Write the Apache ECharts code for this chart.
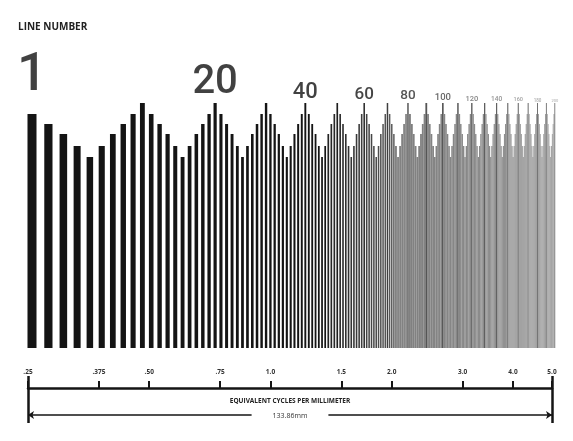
<!DOCTYPE html>
<html><head><meta charset="utf-8">
<script src="https://cdn.jsdelivr.net/npm/echarts@6/dist/echarts.min.js"></script>
<style>html,body{margin:0;padding:0;background:#fff}#c{width:573px;height:441px}</style>
</head><body><div id="c"></div>
<script>
// ---- data ----
// bar heights (arbitrary units) for line numbers 1..200
const barHeights = [
  234,224,214,202,191,202,214,224,234,245,
  234,224,214,202,191,202,214,224,234,245,
  234,224,214,202,191,202,214,224,234,245,
  234,224,214,202,191,202,214,224,234,245,
  234,224,214,202,191,202,214,224,234,245,
  234,224,214,202,191,202,214,224,234,245,
  234,224,214,202,191,202,214,224,234,245,
  234,224,214,202,191,202,214,224,234,245,
  234,224,214,202,191,202,214,224,234,245,
  234,224,214,202,191,202,214,224,234,245,
  234,224,214,202,191,202,214,224,234,245,
  234,224,214,202,191,202,214,224,234,245,
  234,224,214,202,191,202,214,224,234,245,
  234,224,214,202,191,202,214,224,234,245,
  234,224,214,202,191,202,214,224,234,245,
  234,224,214,202,191,202,214,224,234,245,
  234,224,214,202,191,202,214,224,234,245,
  234,224,214,202,191,202,214,224,234,245,
  234,224,214,202,191,202,214,224,234,245,
  234,224,214,202,191,202,214,224,234,245
];
const labeledLines = [1, 20, 40, 60, 80, 100, 120, 140, 160, 180, 200];
const scaleTicks = [0.25, 0.375, 0.5, 0.75, 1, 1.5, 2, 3, 4, 5];
const scaleTickLabels = ['.25', '.375', '.50', '.75', '1.0', '1.5', '2.0', '3.0', '4.0', '5.0'];
const titleText = 'LINE NUMBER';
const scaleName = 'EQUIVALENT CYCLES PER MILLIMETER';
const spanText = '133.86mm';

// line number n <-> cycles per millimetre (chart's own relation: .25 at line 1, +.025 per line)
const lineNumbers = barHeights.map((_, i) => i + 1);
const cycles = lineNumbers.map(n => 0.25 + 0.025 * (n - 1));

// ---- styles ----
const labelSizes = [53, 40, 22, 17, 13.5, 9.5, 7.5, 6.5, 5.5, 4.5, 4];
const labelColors = ['#111', '#111', '#111', '#151515', '#2a2a2a', '#444', '#666', '#777', '#888', '#999', '#aaa'];
function hex(v) { v = Math.max(0, Math.min(255, Math.round(v))); const h = v.toString(16).padStart(2, '0'); return '#' + h + h + h; }
function barStyle(n) {
  const peak = n % 10 === 0;
  if (n <= 46) return { c: hex(0x14), frac: 0.55 };
  if (n <= 80) { const t = (n - 46) / 34; return { c: hex(peak ? 0x16 + t * 0x3a : 0x22 + t * 0x48), frac: 0.55 + t * 0.2 }; }
  const t = (n - 80) / 120;
  return { c: hex(peak ? 0x52 + t * 0x20 : 0x80 + t * 0x1c), frac: 1.05 };
}
const peakH = Math.max.apply(null, barHeights);
const last = scaleTicks[scaleTicks.length - 1];

const chart = echarts.init(document.getElementById('c'), null, { renderer: 'canvas' });
chart.setOption({
  animation: false,
  backgroundColor: '#fff',
  title: { text: titleText, left: 18, top: 22, padding: 0, textStyle: { fontSize: 10, fontWeight: 'bold', color: '#222', fontFamily: 'Open Sans' } },
  grid: [
    { left: 32, right: 18.2, top: 103, bottom: 93 },
    { left: 28, right: 21, top: 376, height: 47 }
  ],
  xAxis: [
    { type: 'log', gridIndex: 0, min: cycles[0], max: cycles[cycles.length - 1], show: false },
    {
      type: 'log', gridIndex: 1, min: scaleTicks[0], max: last, position: 'top', offset: -12,
      axisLine: { show: true, onZero: false, lineStyle: { color: '#151515', width: 2.5 } },
      axisTick: { show: true, customValues: scaleTicks, inside: false, length: 7, lineStyle: { color: '#151515', width: 2 } },
      axisLabel: {
        show: true, customValues: scaleTicks, inside: false, margin: 12,
        formatter: v => { const i = scaleTicks.findIndex(t => Math.abs(t - v) < 1e-6); return i >= 0 ? scaleTickLabels[i] : ''; },
        fontSize: 6.5, color: '#333', fontFamily: 'Open Sans', fontWeight: 'bold'
      },
      splitLine: { show: false }, minorTick: { show: false },
      name: scaleName, nameLocation: 'middle', nameGap: -17,
      nameTextStyle: { fontSize: 6.5, fontWeight: 'bold', color: '#222', fontFamily: 'Open Sans' }
    }
  ],
  yAxis: [
    { type: 'value', gridIndex: 0, min: 0, max: peakH, show: false },
    { type: 'value', gridIndex: 1, min: -35, max: 12, show: false }
  ],
  series: [
    {
      type: 'custom', xAxisIndex: 0, yAxisIndex: 0, clip: false,
      data: cycles.map((f, i) => [f, barHeights[i]]),
      encode: { x: 0, y: 1 },
      renderItem: function (params, api) {
        const i = params.dataIndex;
        const f = api.value(0), h = api.value(1);
        const base = api.coord([f, 0]);
        const top = api.coord([f, h]);
        let spacing;
        if (i < cycles.length - 1) spacing = api.coord([cycles[i + 1], 0])[0] - base[0];
        else spacing = base[0] - api.coord([cycles[i - 1], 0])[0];
        const st = barStyle(lineNumbers[i]);
        const w = Math.max(spacing * st.frac, 0.5);
        return { type: 'rect', shape: { x: base[0] - w / 2, y: top[1], width: w, height: base[1] - top[1] }, style: { fill: st.c } };
      }
    },
    {
      type: 'scatter', xAxisIndex: 0, yAxisIndex: 0, symbolSize: 0, clip: false, silent: true,
      data: labeledLines.map((n, k) => ({
        value: [cycles[n - 1], peakH],
        label: { show: true, position: 'top', distance: 0, formatter: String(n), fontSize: labelSizes[k], color: labelColors[k], fontFamily: 'Roboto', fontWeight: 500 }
      }))
    },
    {
      type: 'line', xAxisIndex: 1, yAxisIndex: 1, symbol: 'none', silent: true, clip: false,
      lineStyle: { opacity: 0 }, data: [[scaleTicks[0], 0]],
      markLine: {
        silent: true, animation: false, symbol: ['none', 'none'],
        label: { show: false },
        data: [
          [{ coord: [scaleTicks[0], -35], lineStyle: { width: 2.5, color: '#151515', type: 'solid' } }, { coord: [scaleTicks[0], 12] }],
          [{ coord: [last, -35], lineStyle: { width: 2.5, color: '#151515', type: 'solid' } }, { coord: [last, 12] }],
          [
            { coord: [scaleTicks[0], -27], symbol: 'arrow', symbolSize: 6,
              lineStyle: { width: 1.5, color: '#151515', type: 'solid' },
              label: { show: true, position: 'middle', distance: -6, formatter: spanText, backgroundColor: '#fff', padding: [2, 21], fontSize: 7, color: '#333', fontFamily: 'Open Sans' } },
            { coord: [last, -27], symbol: 'arrow', symbolSize: 6 }
          ]
        ]
      }
    }
  ]
});
</script></body></html>
